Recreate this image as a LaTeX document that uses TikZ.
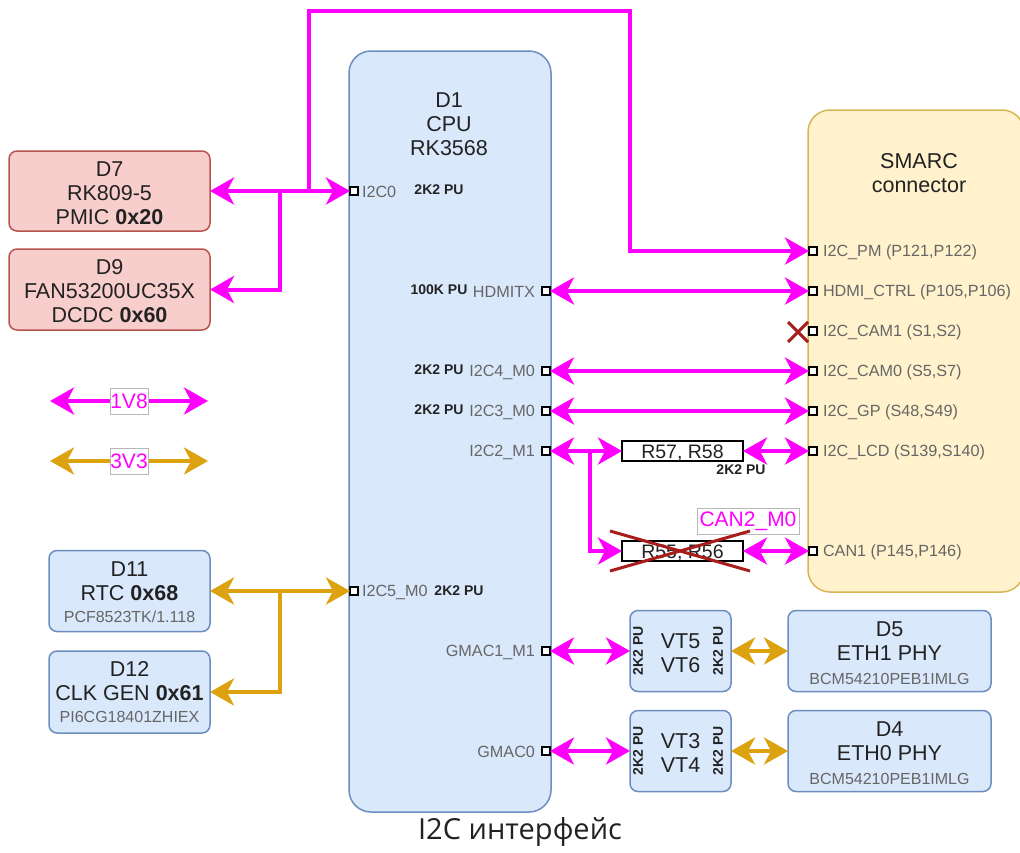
\documentclass[tikz,border=0pt]{standalone}
\usepackage{fontspec}
\setmainfont{Liberation Sans}
\newfontfamily\capfont{Open Sans}
\usetikzlibrary{arrows.meta}
\definecolor{blueF}{HTML}{DAE8FC}\definecolor{blueD}{HTML}{6C8EBF}
\definecolor{redF}{HTML}{F8CECC}\definecolor{redD}{HTML}{B85450}
\definecolor{yelF}{HTML}{FFF2CC}\definecolor{yelD}{HTML}{D6B656}
\definecolor{mag}{HTML}{FF00FF}\definecolor{gold}{HTML}{DDA20F}
\definecolor{crossred}{HTML}{A81C1C}\definecolor{ink}{HTML}{222222}\definecolor{greytxt}{HTML}{666666}
\tikzset{
 every node/.style={outer sep=0pt},
 box/.style={draw,rectangle,inner sep=0pt,line width=1.5pt,rounded corners=8pt},
 bluebox/.style={box,fill=blueF,draw=blueD},
 redbox/.style={box,fill=redF,draw=redD},
 ttl/.style={inner sep=0pt,align=center,text=ink,font=\fontsize{21.5}{24}\selectfont},
 resbox/.style={draw=black,fill=white,rectangle,inner sep=0pt,line width=1.5pt,minimum width=121pt,minimum height=20pt,text=ink,text height=14pt,text depth=0pt,font=\fontsize{19.5}{22}\selectfont},
 port/.style={draw=black,fill=white,rectangle,inner sep=0pt,line width=2pt,minimum size=8pt},
 plabel/.style={inner sep=0pt,text=greytxt,font=\fontsize{16.2}{18}\selectfont},
 pu/.style={inner sep=0pt,text=ink,font=\fontsize{14}{16}\selectfont\bfseries},
 wbox/.style={draw=black!28,fill=white,line width=.8pt,rectangle,inner sep=0pt,text=mag,font=\fontsize{21}{24}\selectfont},
 sub/.style={inner sep=0pt,text=greytxt,font=\fontsize{16}{18}\selectfont},
 tipA/.tip={Stealth[length=24pt,width=27pt,inset=7pt]},
 both/.style={line width=4pt,tipA-tipA},
 one/.style={line width=4pt,-tipA},
 cross/.style={draw=crossred,line width=3pt},
}
\begin{document}
\begin{tikzpicture}[x=1pt,y=-1pt]
\useasboundingbox (0,0) rectangle (1020,852);
% main blocks
\node[bluebox,rounded corners=22pt,minimum width=202pt,minimum height=761pt] (D1) at (450,431.5) {};
\node[box,fill=yelF,draw=yelD,rounded corners=22pt,minimum width=216pt,minimum height=482pt] (SM) at (916,351) {};
\node[ttl] (D1t) at (449,124) {D1\\CPU\\RK3568};
\node[ttl] (SMt) at (919,173) {SMARC\\connector};
\node[redbox,minimum width=201pt,minimum height=80pt] (D7) at (109.5,191) {};
\node[ttl] (D7t) at (109.5,193) {D7\\RK809-5\\PMIC \textbf{0x20}};
\node[redbox,minimum width=201pt,minimum height=81pt] (D9) at (109.5,289.5) {};
\node[ttl] (D9t) at (109.5,291.5) {D9\\FAN53200UC35X\\DCDC \textbf{0x60}};
\node[bluebox,minimum width=161pt,minimum height=81pt] (D11) at (129.5,591) {};
\node[ttl] (D11t) at (129.5,581) {D11\\RTC \textbf{0x68}};
\node[sub] (D11s) at (129.5,617) {PCF8523TK/1.118};
\node[bluebox,minimum width=161pt,minimum height=82pt] (D12) at (129.5,692) {};
\node[ttl] (D12t) at (129.5,681) {D12\\CLK GEN \textbf{0x61}};
\node[sub] (D12s) at (129.5,717) {PI6CG18401ZHIEX};
\node[bluebox,minimum width=101pt,minimum height=81pt] (VT5) at (680.5,651) {};
\node[ttl] (VT5t) at (680.5,653) {VT5\\VT6};
\node[bluebox,minimum width=101pt,minimum height=81pt] (VT3) at (680.5,751) {};
\node[ttl] (VT3t) at (680.5,753) {VT3\\VT4};
\node[bluebox,minimum width=203pt,minimum height=81pt] (D5) at (889.5,651) {};
\node[ttl] (D5t) at (889.5,641) {D5\\ETH1 PHY};
\node[sub] (D5s) at (889.5,679) {BCM54210PEB1IMLG};
\node[bluebox,minimum width=203pt,minimum height=81pt] (D4) at (889.5,751) {};
\node[ttl] (D4t) at (889.5,741) {D4\\ETH0 PHY};
\node[sub] (D4s) at (889.5,779) {BCM54210PEB1IMLG};
\node[resbox] (R57) at (682.5,451) {R57, R58};
\node[resbox] (R55) at (682.5,551) {R55, R56};
% ports on D1
\node[port] (pI2C0) at (354,191) {};
\node[port] (pI2C5) at (354,591) {};
\node[port] (pHDMI) at (546,291) {};
\node[port] (pI2C4) at (546,371) {};
\node[port] (pI2C3) at (546,411) {};
\node[port] (pI2C2) at (546,451) {};
\node[port] (pGM1) at (546,651) {};
\node[port] (pGM0) at (546,751) {};
% ports on SMARC
\node[port] (sPM) at (813,251) {};
\node[port] (sHD) at (813,291) {};
\node[port] (sC1) at (813,331) {};
\node[port] (sC0) at (813,371) {};
\node[port] (sGP) at (813,411) {};
\node[port] (sLC) at (813,451) {};
\node[port] (sCA) at (813,551) {};
% port labels
\node[plabel,anchor=west] (lI2C0) at (362,192) {I2C0};
\node[plabel,anchor=west] (lI2C5) at (362,592) {I2C5\_M0};
\node[plabel,anchor=east] (lHDMI) at (535,292) {HDMITX};
\node[plabel,anchor=east] (lI2C4) at (535,372) {I2C4\_M0};
\node[plabel,anchor=east] (lI2C3) at (535,412) {I2C3\_M0};
\node[plabel,anchor=east] (lI2C2) at (535,452) {I2C2\_M1};
\node[plabel,anchor=east] (lGM1) at (535,652) {GMAC1\_M1};
\node[plabel,anchor=east] (lGM0) at (535,752) {GMAC0};
\node[plabel,anchor=west] (tPM) at (823,252) {I2C\_PM (P121,P122)};
\node[plabel,anchor=west] (tHD) at (823,292) {HDMI\_CTRL (P105,P106)};
\node[plabel,anchor=west] (tC1) at (823,332) {I2C\_CAM1 (S1,S2)};
\node[plabel,anchor=west] (tC0) at (823,372) {I2C\_CAM0 (S5,S7)};
\node[plabel,anchor=west] (tGP) at (823,412) {I2C\_GP (S48,S49)};
\node[plabel,anchor=west] (tLC) at (823,452) {I2C\_LCD (S139,S140)};
\node[plabel,anchor=west] (tCA) at (823,552) {CAN1 (P145,P146)};
% pull-up labels
\node[pu] (u1) at (439,190) {2K2 PU};
\node[pu] (u2) at (439,290) {100K PU};
\node[pu] (u3) at (439,370) {2K2 PU};
\node[pu] (u4) at (439,410) {2K2 PU};
\node[pu] (u5) at (741,470) {2K2 PU};
\node[pu] (u6) at (459,591) {2K2 PU};
\node[pu,rotate=90] (v1) at (638,651) {2K2 PU};
\node[pu,rotate=90] (v2) at (718,651) {2K2 PU};
\node[pu,rotate=90] (v3) at (638,751) {2K2 PU};
\node[pu,rotate=90] (v4) at (718,751) {2K2 PU};
% connectors
\coordinate (j1) at (280,191);
\coordinate (j2) at (309,191);
\coordinate (j3) at (280,591);
\coordinate (j4) at (590,451);
\coordinate (top1) at (309,11);
\coordinate (top2) at (630,11);
\coordinate (top3) at (630,251);
\draw[both,mag] (D7.east) -- (pI2C0.west);
\draw[one,mag] (j1) |- (D9.east);
\draw[one,mag] (j2) -- (top1) -- (top2) -- (top3) -- (sPM.west);
\draw[both,mag] (pHDMI.east) -- (sHD.west);
\draw[both,mag] (pI2C4.east) -- (sC0.west);
\draw[both,mag] (pI2C3.east) -- (sGP.west);
\draw[both,mag] (pI2C2.east) -- (R57.west);
\draw[one,mag] (j4) |- (R55.west);
\draw[both,mag] (R57.east) -- (sLC.west);
\draw[both,mag] (R55.east) -- (sCA.west);
\draw[both,mag] (pGM1.east) -- (VT5.west);
\draw[both,mag] (pGM0.east) -- (VT3.west);
\draw[both,gold] (VT5.east) -- (D5.west);
\draw[both,gold] (VT3.east) -- (D4.west);
\draw[both,gold] (D11.east) -- (pI2C5.west);
\draw[one,gold] (j3) |- (D12.east);
% legend
\coordinate (a1) at (50,401);\coordinate (a2) at (208,401);
\coordinate (b1) at (50,461);\coordinate (b2) at (208,461);
\draw[both,mag] (a1) -- (a2);
\draw[both,gold] (b1) -- (b2);
\node[wbox,minimum width=38pt,minimum height=26pt] (L1) at (129,401) {1V8};
\node[wbox,minimum width=38pt,minimum height=26pt] (L2) at (129,461) {3V3};
\node[wbox,minimum width=102pt,minimum height=26pt] (L3) at (748,521) {CAN2\_M0};
% crosses
\coordinate (x1) at (610,531);\coordinate (x2) at (750,571);\coordinate (x3) at (610,571);\coordinate (x4) at (750,531);
\draw[cross] (x1) -- (x2);
\draw[cross] (x3) -- (x4);
\coordinate (y1) at (788,322);\coordinate (y2) at (808,342);\coordinate (y3) at (788,342);\coordinate (y4) at (808,322);
\draw[cross] (y1) -- (y2);
\draw[cross] (y3) -- (y4);
% caption
\node[inner sep=0pt,text=ink,font=\capfont\fontsize{29}{32}\selectfont] (cap) at (520,832) {I2C интерфейс};
\end{tikzpicture}
\end{document}
